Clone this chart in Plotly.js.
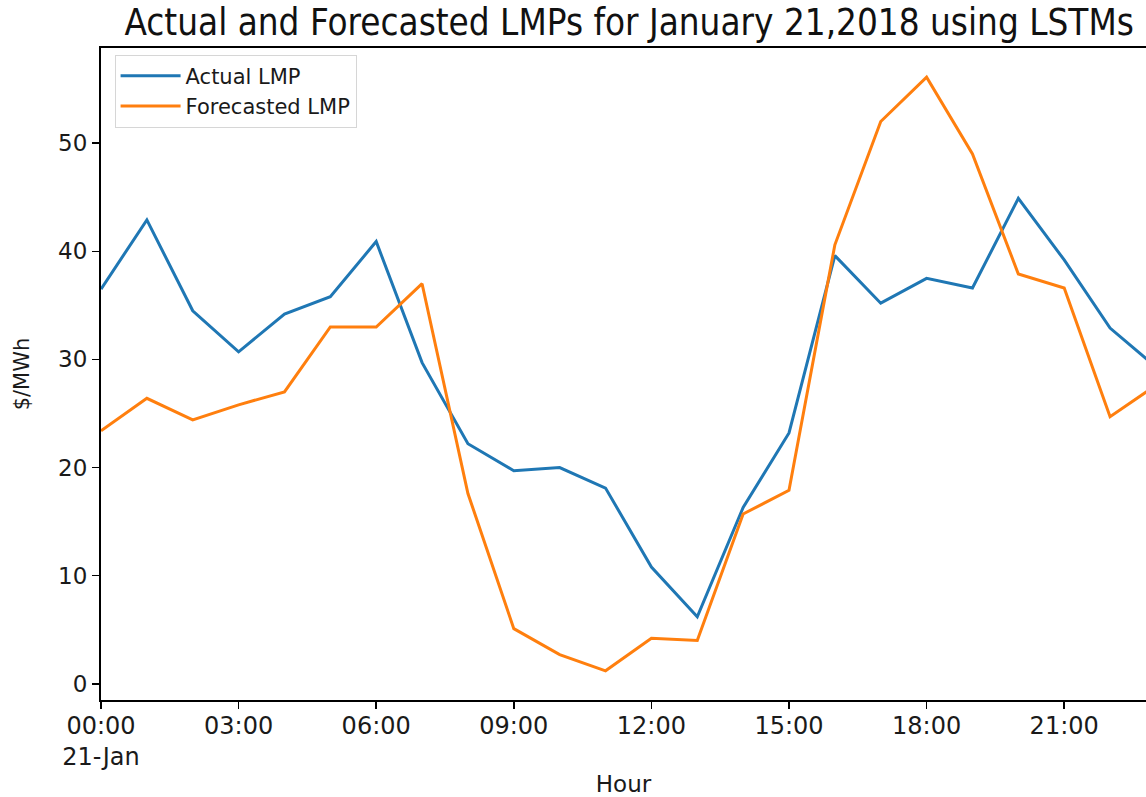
<!DOCTYPE html>
<html>
<head>
<meta charset="utf-8">
<script src="https://cdn.plot.ly/plotly-3.0.1.min.js"></script>
<style>
  html, body { margin: 0; padding: 0; background: #fff; }
  #chart { width: 1146px; height: 797px; }
</style>
</head>
<body>
<div id="chart"></div>
<script>
// Hourly timestamps for 21 January 2018
const hours = [
  '2018-01-21 00:00', '2018-01-21 01:00', '2018-01-21 02:00', '2018-01-21 03:00',
  '2018-01-21 04:00', '2018-01-21 05:00', '2018-01-21 06:00', '2018-01-21 07:00',
  '2018-01-21 08:00', '2018-01-21 09:00', '2018-01-21 10:00', '2018-01-21 11:00',
  '2018-01-21 12:00', '2018-01-21 13:00', '2018-01-21 14:00', '2018-01-21 15:00',
  '2018-01-21 16:00', '2018-01-21 17:00', '2018-01-21 18:00', '2018-01-21 19:00',
  '2018-01-21 20:00', '2018-01-21 21:00', '2018-01-21 22:00', '2018-01-21 23:00'
];

// Locational marginal prices, $/MWh
const actualLMP = [
  36.5, 42.9, 34.5, 30.7, 34.2, 35.8, 40.9, 29.7,
  22.2, 19.7, 20.0, 18.1, 10.8, 6.2, 16.3, 23.2,
  39.6, 35.2, 37.5, 36.6, 44.9, 39.2, 32.9, 29.3
];
const forecastLMP = [
  23.4, 26.4, 24.4, 25.8, 27.0, 33.0, 33.0, 37.0,
  17.6, 5.1, 2.7, 1.2, 4.2, 4.0, 15.7, 17.9,
  40.6, 52.0, 56.1, 49.0, 37.9, 36.6, 24.7, 27.6
];

// Axis ticks
const tickHours = [
  '2018-01-21 00:00', '2018-01-21 03:00', '2018-01-21 06:00', '2018-01-21 09:00',
  '2018-01-21 12:00', '2018-01-21 15:00', '2018-01-21 18:00', '2018-01-21 21:00'
];
const tickLabels = ['00:00<br>21-Jan', '03:00', '06:00', '09:00', '12:00', '15:00', '18:00', '21:00'];
const yTicks = [0, 10, 20, 30, 40, 50];

const baseFont = 'DejaVu Sans, Arial, sans-serif';
const textColor = '#1a1a1a';

const traces = [
  {
    x: hours, y: actualLMP, type: 'scatter', mode: 'lines', name: 'Actual LMP',
    line: { color: '#1f77b4', width: 3 }
  },
  {
    x: hours, y: forecastLMP, type: 'scatter', mode: 'lines', name: 'Forecasted LMP',
    line: { color: '#ff7f0e', width: 3 }
  }
];

const layout = {
  width: 1146, height: 797,
  paper_bgcolor: '#ffffff', plot_bgcolor: '#ffffff',
  margin: { l: 101, r: 0, t: 48, b: 97 },
  font: { family: baseFont, color: textColor },
  title: {
    text: 'Actual and Forecasted LMPs for January 21,2018 using LSTMs',
    font: { family: 'DejaVu Sans Condensed, DejaVu Sans, sans-serif', size: 36.5, color: '#111' },
    x: 0.549, xanchor: 'center', y: 0.972, yanchor: 'middle'
  },
  xaxis: {
    type: 'date',
    range: ['2018-01-21 00:00', '2018-01-21 22:47'],
    tickmode: 'array', tickvals: tickHours, ticktext: tickLabels,
    showgrid: false, zeroline: false,
    showline: true, linecolor: '#000', linewidth: 2, mirror: true,
    ticks: 'outside', ticklen: 7, tickwidth: 1.5, tickcolor: '#000',
    ticklabelstandoff: -4,
    tickfont: { size: 24, family: baseFont, color: textColor },
    title: { text: 'Hour', font: { size: 23, family: baseFont, color: textColor }, standoff: 10 }
  },
  yaxis: {
    range: [-1.5, 58.8],
    tickmode: 'array', tickvals: yTicks,
    showgrid: false, zeroline: false,
    showline: true, linecolor: '#000', linewidth: 2, mirror: false,
    ticks: 'outside', ticklen: 7, tickwidth: 1.5, tickcolor: '#000',
    tickfont: { size: 23, family: baseFont, color: textColor },
    title: { text: '$/MWh', font: { size: 21, family: baseFont, color: textColor }, standoff: 23 }
  },
  showlegend: true,
  legend: {
    x: 0.013, y: 0.99, xanchor: 'left', yanchor: 'top',
    bgcolor: '#ffffff', bordercolor: '#d6d6d6', borderwidth: 1,
    font: { size: 21, family: baseFont, color: textColor },
    itemwidth: 60
  }
};

Plotly.newPlot('chart', traces, layout, { displayModeBar: false, staticPlot: true });
</script>
</body>
</html>
